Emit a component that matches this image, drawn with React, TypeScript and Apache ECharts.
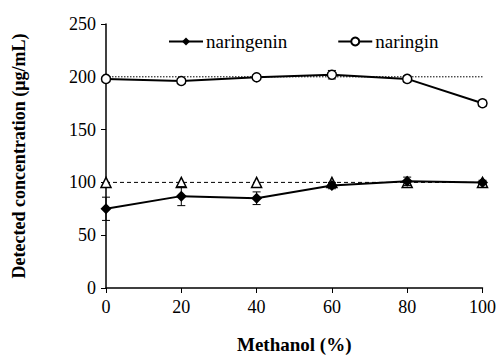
import React, { useEffect, useRef } from "react";
import * as echarts from "echarts";

const methanol = [0, 20, 40, 60, 80, 100];
const naringenin = [75, 87, 85, 97, 101, 100];
const naringeninErr = [11, 9, 6, 3, 4, 2];
const naringin = [198, 196, 199.5, 202, 198, 175];
const naringinErr = [2, 2, 2, 4, 3, 3];
const spiked100 = [100, 100, 100, 100, 100, 100];
const spiked200 = [200, 200, 200, 200, 200, 200];

const FONT = "'Liberation Serif', 'Times New Roman', serif";

function errSeries(vals: number[], errs: number[]) {
  return {
    type: "custom",
    z: 3,
    silent: true,
    data: methanol.map((x, i) => [x, vals[i], errs[i]]),
    renderItem: (params: any, api: any) => {
      const x = api.value(0);
      const y = api.value(1);
      const e = api.value(2);
      const top = api.coord([x, y + e]);
      const bot = api.coord([x, y - e]);
      const hw = 4;
      const style = { stroke: "#000", lineWidth: 1 };
      return {
        type: "group",
        children: [
          { type: "line", shape: { x1: top[0], y1: top[1], x2: bot[0], y2: bot[1] }, style },
          { type: "line", shape: { x1: top[0] - hw, y1: top[1], x2: top[0] + hw, y2: top[1] }, style },
          { type: "line", shape: { x1: bot[0] - hw, y1: bot[1], x2: bot[0] + hw, y2: bot[1] }, style },
        ],
      };
    },
  };
}

export default function App() {
  const ref = useRef<HTMLDivElement>(null);
  useEffect(() => {
    const chart = echarts.init(ref.current!, null, { renderer: "svg" });
    chart.setOption({
      animation: false,
      textStyle: { fontFamily: FONT },
      grid: { left: 106, right: 16, top: 24, bottom: 70 },
      legend: {
        data: ["naringenin", "naringin"],
        left: 163,
        top: 27,
        itemGap: 50,
        itemWidth: 34,
        itemHeight: 10,
        textStyle: { fontFamily: FONT, fontSize: 19, color: "#000", padding: [0, 0, 0, -2] },
      },
      xAxis: {
        type: "value",
        min: 0,
        max: 100,
        interval: 20,
        name: "Methanol (%)",
        nameLocation: "middle",
        nameGap: 47,
        nameTextStyle: { fontFamily: FONT, fontSize: 19, fontWeight: "bold", color: "#000" },
        axisLine: { lineStyle: { color: "#000", width: 1.5 } },
        axisTick: { show: true, inside: false, length: 5, lineStyle: { color: "#000" } },
        axisLabel: { fontFamily: FONT, fontSize: 18, color: "#000", margin: 10 },
        splitLine: { show: false },
      },
      yAxis: {
        type: "value",
        min: 0,
        max: 250,
        interval: 50,
        name: "Detected concentration (μg/mL)",
        nameLocation: "middle",
        nameGap: 78,
        nameTextStyle: { fontFamily: FONT, fontSize: 18, fontWeight: "bold", color: "#000" },
        axisLine: { show: true, lineStyle: { color: "#000", width: 1.5 } },
        axisTick: { show: true, inside: false, length: 5, lineStyle: { color: "#000" } },
        axisLabel: { fontFamily: FONT, fontSize: 18, color: "#000", margin: 10 },
        splitLine: { show: false },
      },
      series: [
        {
          name: "ref200",
          type: "line",
          z: 1,
          data: methanol.map((x, i) => [x, spiked200[i]]),
          showSymbol: false,
          lineStyle: { color: "#000", width: 1, type: [1.5, 1.5] },
        },
        {
          name: "ref100",
          type: "line",
          z: 1,
          data: methanol.map((x, i) => [x, spiked100[i]]),
          symbol: "triangle",
          symbolSize: 10,
          itemStyle: { color: "#fff", borderColor: "#000", borderWidth: 1.5 },
          lineStyle: { color: "#000", width: 1, type: [4, 3] },
        },
        errSeries(naringenin, naringeninErr),
        errSeries(naringin, naringinErr),
        {
          name: "naringenin",
          type: "line",
          z: 4,
          data: methanol.map((x, i) => [x, naringenin[i]]),
          symbol: "diamond",
          symbolSize: 11,
          itemStyle: { color: "#000" },
          lineStyle: { color: "#000", width: 2 },
        },
        {
          name: "naringin",
          type: "line",
          z: 4,
          data: methanol.map((x, i) => [x, naringin[i]]),
          symbol: "circle",
          symbolSize: 9,
          itemStyle: { color: "#fff", borderColor: "#000", borderWidth: 1.5 },
          lineStyle: { color: "#000", width: 2 },
        },
      ],
    });
    return () => chart.dispose();
  }, []);
  return (
    <div
      ref={ref}
      style={{ position: "absolute", left: 0, top: 0, width: 499, height: 359 }}
    />
  );
}
